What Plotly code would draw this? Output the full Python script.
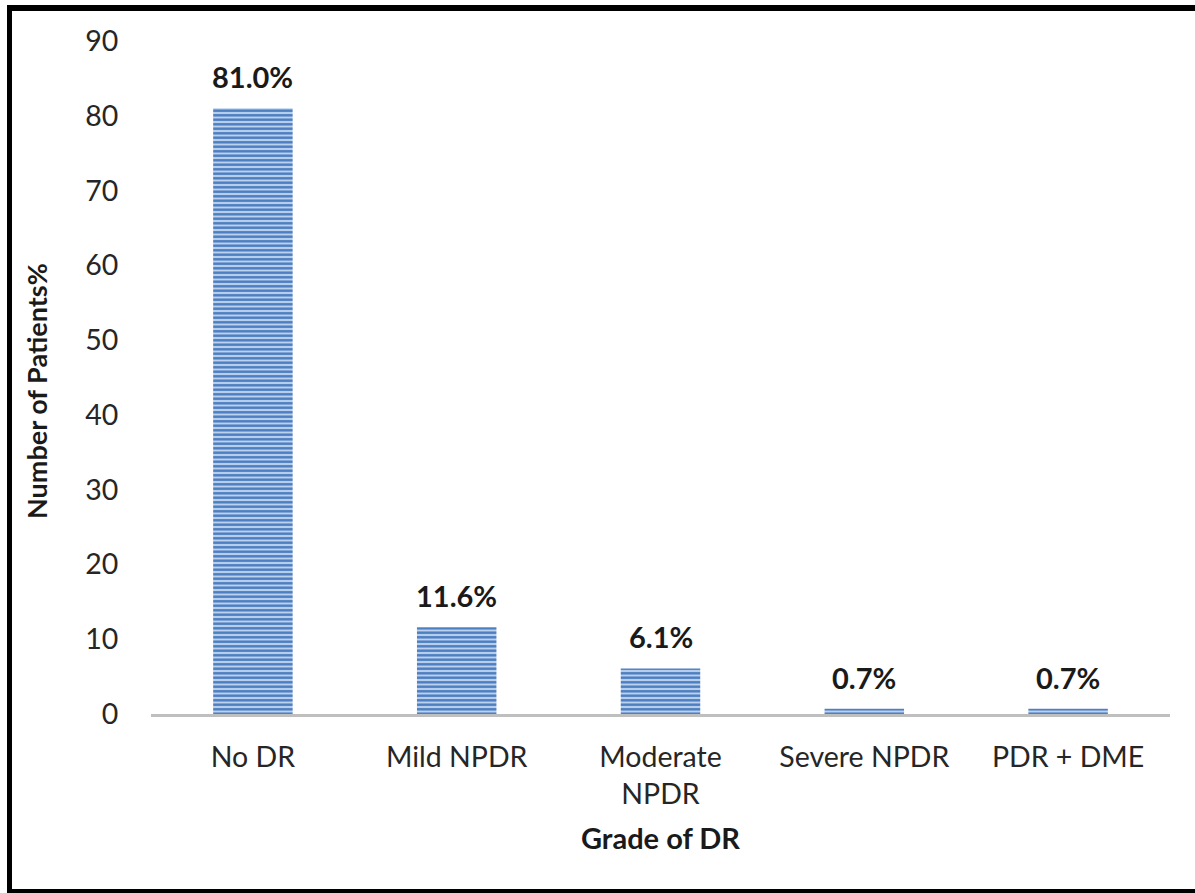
import plotly.graph_objects as go

# Distribution of patients by diabetic retinopathy grade
grades = ["No DR", "Mild NPDR", "Moderate<br>NPDR", "Severe NPDR", "PDR + DME"]
patients_pct = [81.0, 11.6, 6.1, 0.7, 0.7]
y_ticks = [0, 10, 20, 30, 40, 50, 60, 70, 80, 90]

W, H = 1195, 893
L, R, T, B = 151, 25, 41, 179
PW, PH = W - L - R, H - T - B

FONT = "Lato, 'Open Sans', sans-serif"
TICK_SIZE = 28.5

fig = go.Figure(
    go.Bar(
        x=grades,
        y=patients_pct,
        width=0.39,
        marker=dict(
            color="#bcd1ed",
            line=dict(width=0),
            pattern=dict(shape="-", fgcolor="#4a7dbf", size=4.5, solidity=0.55,
                         fillmode="overlay", fgopacity=1),
        ),
        hoverinfo="skip",
    )
)

# value labels above each bar
for g, v in zip(grades, patients_pct):
    fig.add_annotation(
        x=g, y=v, text=f"<b>{v:.1f}%</b>", showarrow=False,
        yanchor="bottom", yshift=12,
        font=dict(family=FONT, size=29, color="#1a1a1a"),
    )

def px(xp):
    return (xp - L) / PW

def py(yp):
    return (H - B - yp) / PH

# y-axis title, placed as a rotated annotation
fig.add_annotation(
    xref="paper", yref="paper", x=px(37), y=py(391),
    text="<b>Number of Patients%</b>", textangle=-90, showarrow=False,
    xanchor="center", yanchor="middle",
    font=dict(family=FONT, size=27, color="#1a1a1a"),
)

# outer frame lines (left, top, bottom)
fig.add_shape(type="line", xref="paper", yref="paper",
              x0=px(9.5), x1=px(9.5), y0=py(5), y1=py(893),
              line=dict(color="black", width=5))
fig.add_shape(type="line", xref="paper", yref="paper",
              x0=px(7), x1=px(1195), y0=py(8), y1=py(8),
              line=dict(color="black", width=6))
fig.add_shape(type="line", xref="paper", yref="paper",
              x0=px(7), x1=px(1195), y0=py(891), y1=py(891),
              line=dict(color="black", width=4))

fig.update_layout(
    width=W, height=H,
    margin=dict(l=L, r=R, t=T, b=B),
    paper_bgcolor="white", plot_bgcolor="white",
    showlegend=False,
    font=dict(family=FONT, size=TICK_SIZE, color="#262626"),
    xaxis=dict(
        showgrid=False, zeroline=False,
        showline=True, linecolor="#bfbfbf", linewidth=3,
        ticks="outside", ticklen=16, tickcolor="rgba(0,0,0,0)",
        tickfont=dict(family=FONT, size=TICK_SIZE, color="#262626"),
        title=dict(text="<b>Grade of DR</b>", standoff=20,
                   font=dict(family=FONT, size=29, color="#1a1a1a")),
    ),
    yaxis=dict(
        range=[0, 90], tickvals=y_ticks,
        showgrid=False, zeroline=False, showline=False,
        ticks="outside", ticklen=26, tickcolor="rgba(0,0,0,0)",
        tickfont=dict(family=FONT, size=TICK_SIZE, color="#262626"),
    ),
)

fig.write_html("out.html")
